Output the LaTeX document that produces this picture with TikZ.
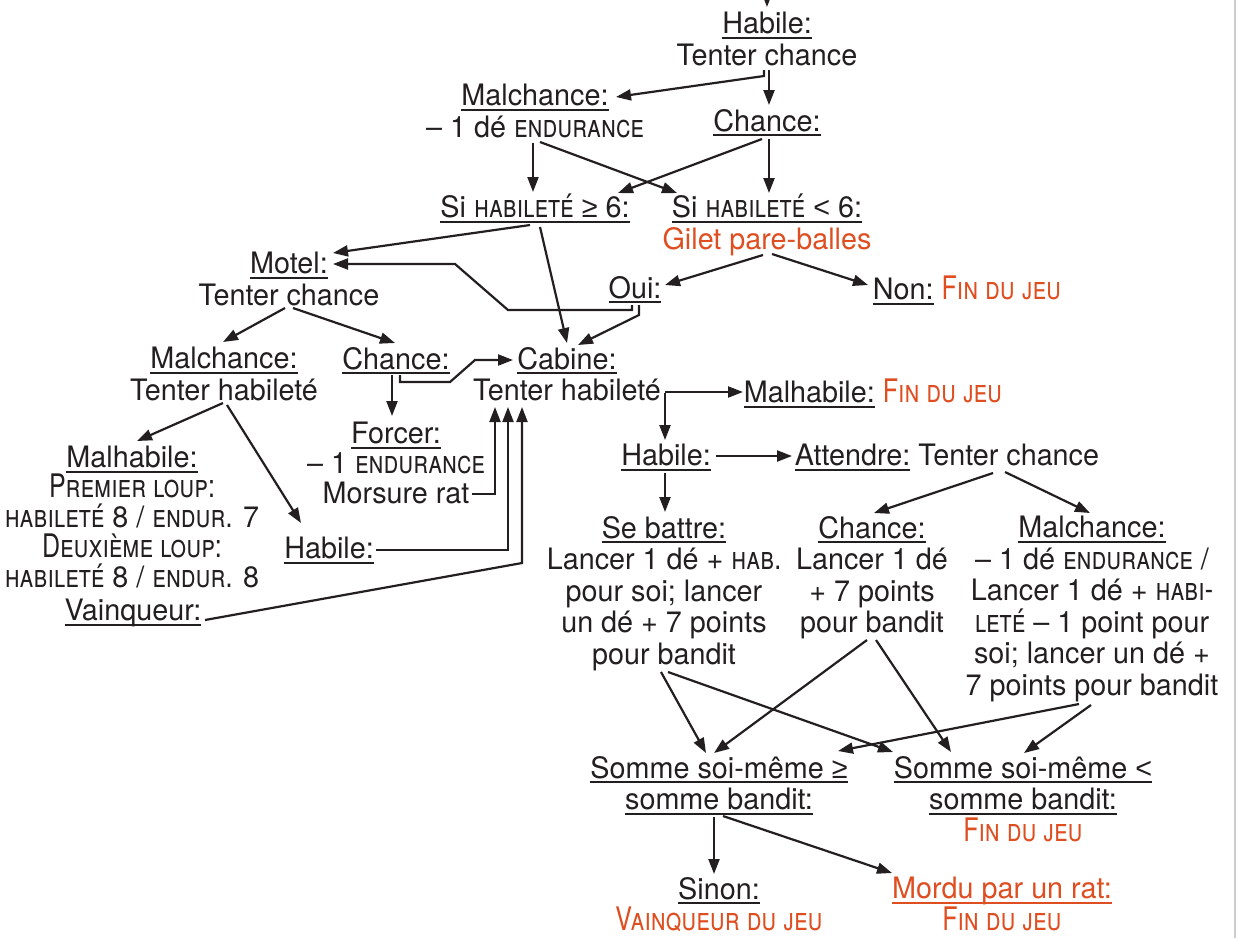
\documentclass[tikz,border=0pt]{standalone}
\usepackage{fontspec}
\setmainfont{TeX Gyre Heros}[FakeStretch=0.975]
\newfontfamily\petitescap{TeX Gyre Heros}[Scale=1.1,FakeStretch=0.77,Letters=SmallCaps]
\newfontfamily\symbole{Liberation Sans}[FakeStretch=0.975]
\usetikzlibrary{arrows.meta}
\definecolor{encre}{RGB}{35,31,32}
\definecolor{fin}{RGB}{222,78,32}
\newcommand{\souligne}[1]{\leavevmode\vtop{\hbox{\raisebox{0pt}[\height][0pt]{#1}}\kern3pt\hrule height 1.8pt}}
\newcommand{\pc}[1]{{\petitescap #1}}
\newcommand{\finjeu}{\textcolor{fin}{\pc{Fin du jeu}}}
\tikzstyle{every node}=[anchor=north,inner sep=0pt,align=center,text=encre,font=\fontsize{29.5}{31.5}\selectfont]
\tikzstyle{serre}=[font=\fontsize{29.5}{30}\selectfont]
\tikzstyle{fleche}=[-{Triangle[length=15pt,width=11pt]},line width=2.2pt,draw=encre]

\begin{document}
\begin{tikzpicture}[x=1pt,y=1pt]
\useasboundingbox (0,0) rectangle (1238,-938);
\draw[gray!40,line width=1.5pt] (1235,0) -- (1235,-938);

\node (hab1) at (767,-12) {\souligne{Habile:}\\Tenter chance};
\node (malch1) at (535,-84) {\souligne{Malchance:}\\– 1 dé \pc{endurance}};
\node (ch1) at (767,-109) {\souligne{Chance:}};
\node (sige) at (535,-194) {\souligne{Si \pc{habileté} {\symbole ≥} 6:}};
\node (silt) at (767,-194) {\souligne{Si \pc{habileté} {\symbole <} 6:}\\\textcolor{fin}{Gilet pare-balles}};
\node (motel) at (289,-252) {\souligne{Motel:}\\Tenter chance};
\node (oui) at (635,-276) {\souligne{Oui:}};
\node (non) at (967,-276) {\souligne{Non:} \finjeu};
\node (malch2) at (224,-347) {\souligne{Malchance:}\\Tenter habileté};
\node (ch2) at (396,-347) {\souligne{Chance:}};
\node (cab) at (567,-347) {\souligne{Cabine:}\\Tenter habileté};
\node (malhab3) at (873,-379) {\souligne{Malhabile:} \finjeu};
\node[serre] (forcer) at (396,-422) {\souligne{Forcer:}\\– 1 \pc{endurance}\\Morsure rat};
\node[serre] (malhab2) at (132,-446) {\souligne{Malhabile:}\\\pc{Premier loup:}\\\pc{habileté} 8 / \pc{endur.} 7\\\pc{Deuxième loup:}\\\pc{habileté} 8 / \pc{endur.} 8};
\node (hab2) at (329,-537) {\souligne{Habile:}};
\node (vainq) at (133,-599) {\souligne{Vainqueur:}};
\node (hab3) at (666,-444) {\souligne{Habile:}};
\node (att) at (947,-444) {\souligne{Attendre:} Tenter chance};
\node (sebat) at (664,-516) {\souligne{Se battre:}\\Lancer 1 dé + \pc{hab.}\\pour soi; lancer\\un dé + 7 points\\pour bandit};
\node (ch3) at (872,-516) {\souligne{Chance:}\\Lancer 1 dé\\+ 7 points\\pour bandit};
\node (malch3) at (1092,-516) {\souligne{Malchance:}\\– 1 dé \pc{endurance} /\\Lancer 1 dé + \pc{habi-}\\\pc{leté} – 1 point pour\\soi; lancer un dé +\\7 points pour bandit};
\node (sge) at (719,-756) {\souligne{Somme soi-même {\symbole ≥}}\\\souligne{somme bandit:}};
\node (slt) at (1023,-756) {\souligne{Somme soi-même {\symbole <}}\\\souligne{somme bandit:}\\\finjeu};
\node (sinon) at (719,-877) {\souligne{Sinon:}\\\textcolor{fin}{\pc{Vainqueur du jeu}}};
\node (mordu) at (1002,-877) {\textcolor{fin}{\souligne{Mordu par un rat:}}\\\finjeu};

\coordinate (entree) at (767,15);
\draw[fleche] (entree) -- ([shift={(0,5)}]hab1.north);
\draw[fleche] ([shift={(-3,-58)}]hab1.north) -- ++(0,-6) -- ([shift={(81,-13)}]malch1.north);
\draw[fleche] ([shift={(2,-58)}]hab1.north) -- ([shift={(2,4)}]ch1.north);
\draw[fleche] ([shift={(-2,-59)}]malch1.north) -- ([shift={(-2,2)}]sige.north);
\draw[fleche] ([shift={(5,-58)}]malch1.north) -- ([shift={(-90,1)}]silt.north);
\draw[fleche] ([shift={(-5,-30)}]ch1.north) -- ([shift={(83,1)}]sige.north);
\draw[fleche] ([shift={(2,-30)}]ch1.north) -- ([shift={(2,1)}]silt.north);
\draw[fleche] ([shift={(-5,-31)}]sige.north) -- ([shift={(44,-1)}]motel.north);
\draw[fleche] ([shift={(5,-33)}]sige.north) -- ([shift={(0,4)}]cab.north);
\draw[fleche] ([shift={(-4,-61)}]silt.north) -- ([shift={(30,-9)}]oui.north);
\draw[fleche] ([shift={(5,-60)}]silt.north) -- ([shift={(-99,-9)}]non.north);
\draw[fleche] ([shift={(-3,-29)}]oui.north) -- ++(0,-5) -- ++(-124,0) -- ++(-53,46) -- ([shift={(44,-12)}]motel.north);
\draw[fleche] ([shift={(4,-29)}]oui.north) -- ++(0,-10) -- ([shift={(11,2)}]cab.north);
\draw[fleche] ([shift={(-4,-56)}]motel.north) -- ([shift={(-1,5)}]malch2.north);
\draw[fleche] ([shift={(4,-56)}]motel.north) -- ([shift={(-1,4)}]ch2.north);
\draw[fleche] ([shift={(4,-28)}]ch2.north) -- ++(0,-7) -- ++(50,0) -- ++(25,22) -- ([shift={(-54,-13)}]cab.north);
\draw[fleche] ([shift={(-4,-28)}]ch2.north) -- ([shift={(-4,6)}]forcer.north);
\draw[fleche] ([shift={(-1,-56)}]malch2.north) -- ([shift={(5,5)}]malhab2.north);
\draw[fleche] ([shift={(3,-58)}]malch2.north) -- ([shift={(-28,14)}]hab2.north);
\draw[fleche] ([shift={(76,-72)}]forcer.north) -| ([shift={(-72,-60)}]cab.north);
\draw[fleche] ([shift={(47,-13)}]hab2.north) -| ([shift={(-59,-60)}]cab.north);
\draw[fleche] ([shift={(72,-21)}]vainq.north) -- ([shift={(-45,-216)}]cab.north) -- ([shift={(-45,-60)}]cab.north);
\draw[fleche] ([shift={(98,-45)}]cab.north) -- ([shift={(-130,-13)}]malhab3.north);
\draw[fleche] ([shift={(98,-46)}]cab.north) -- ([shift={(-1,4)}]hab3.north);
\draw[fleche] ([shift={(50,-12)}]hab3.north) -- ([shift={(-155,-12)}]att.north);
\draw[fleche] ([shift={(-1,-29)}]hab3.north) -- ([shift={(1,4)}]sebat.north);
\draw[fleche] ([shift={(46,-29)}]att.north) -- ([shift={(2,3)}]ch3.north);
\draw[fleche] ([shift={(58,-28)}]att.north) -- ([shift={(-2,3)}]malch3.north);
\draw[fleche] ([shift={(-3,-156)}]sebat.north) -- ([shift={(-13,3)}]sge.north);
\draw[fleche] ([shift={(4,-156)}]sebat.north) -- ([shift={(-130,4)}]slt.north);
\draw[fleche] ([shift={(-5,-124)}]ch3.north) -- ([shift={(-5,3)}]sge.north);
\draw[fleche] ([shift={(4,-124)}]ch3.north) -- ([shift={(-72,4)}]slt.north);
\draw[fleche] ([shift={(-13,-188)}]malch3.north) -- ([shift={(119,5)}]sge.north);
\draw[fleche] ([shift={(-1,-189)}]malch3.north) -- ([shift={(1,3)}]slt.north);
\draw[fleche] ([shift={(-5,-61)}]sge.north) -- ([shift={(-5,3)}]sinon.north);
\draw[fleche] ([shift={(4,-60)}]sge.north) -- ([shift={(-110,4)}]mordu.north);
\end{tikzpicture}
\end{document}
